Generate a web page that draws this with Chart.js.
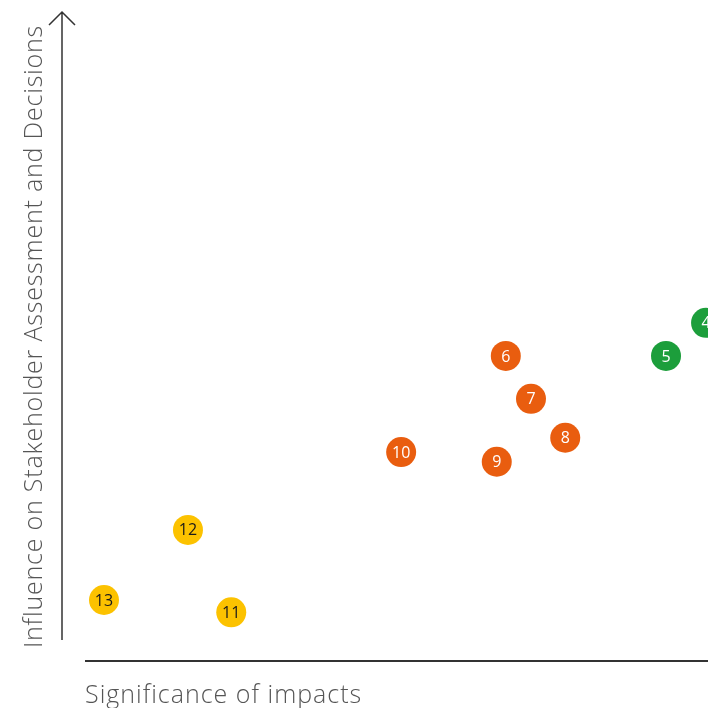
<!DOCTYPE html>
<html>
<head>
<meta charset="utf-8">
<script src="https://cdn.jsdelivr.net/npm/chart.js@4"></script>
<style>
  html, body { margin: 0; padding: 0; background: #fff; overflow: hidden; }
</style>
</head>
<body>
<canvas id="matrix" width="708" height="708"></canvas>
<script>
// topics (axis scale 0..10 both ways)
const topicLabels = ['4', '5', '6', '7', '8', '9', '10', '11', '12', '13'];
const significance = [9.97, 9.35, 6.87, 7.26, 7.79, 6.73, 5.25, 2.62, 1.95, 0.65];
const influence = [5.21, 4.70, 4.70, 4.04, 3.44, 3.07, 3.22, 0.75, 2.02, 0.94];
const topicGroup = ['high', 'high', 'mid', 'mid', 'mid', 'mid', 'mid', 'low', 'low', 'low'];

const groupColors = { high: '#1c9e3b', mid: '#e95d0f', low: '#fcc200' };
const groupText = { high: '#ffffff', mid: '#ffffff', low: '#1a1a1a' };

const xTitle = 'Significance of impacts';
const yTitle = 'Influence on Stakeholder Assessment and Decisions';

// axis lines, arrow and titles drawn around the chart area
const axesPlugin = {
    id: 'axes',
    beforeDatasetsDraw(chart) {
        const { ctx, chartArea } = chart;
        ctx.save();
        ctx.strokeStyle = '#333';
        ctx.lineWidth = 1.5;
        ctx.beginPath();
        ctx.moveTo(chartArea.left, chartArea.bottom - 21);
        ctx.lineTo(chartArea.left, chartArea.top);
        ctx.moveTo(chartArea.left - 13, chartArea.top + 13);
        ctx.lineTo(chartArea.left, chartArea.top);
        ctx.lineTo(chartArea.left + 13, chartArea.top + 13);
        ctx.stroke();

        ctx.lineWidth = 2;
        ctx.beginPath();
        ctx.moveTo(chartArea.left + 23, chartArea.bottom);
        ctx.lineTo(chartArea.right, chartArea.bottom);
        ctx.stroke();

        ctx.fillStyle = '#555';
        ctx.font = '300 25px "Open Sans", sans-serif';
        ctx.letterSpacing = '1px';
        ctx.textBaseline = 'alphabetic';
        ctx.textAlign = 'left';
        ctx.fillText(xTitle, chartArea.left + 23, chartArea.bottom + 42);

        ctx.translate(chartArea.left - 20, (chartArea.top + chartArea.bottom) / 2);
        ctx.rotate(-Math.PI / 2);
        ctx.textAlign = 'center';
        ctx.letterSpacing = '0.8px';
        ctx.fillText(yTitle, 0, 0);
        ctx.restore();
    },
    afterDatasetsDraw(chart) {
        const { ctx } = chart;
        const meta = chart.getDatasetMeta(0);
        ctx.save();
        ctx.font = '16px "Open Sans", sans-serif';
        ctx.textAlign = 'center';
        ctx.textBaseline = 'middle';
        meta.data.forEach((pt, i) => {
            ctx.fillStyle = groupText[topicGroup[i]];
            ctx.fillText(topicLabels[i], pt.x, pt.y + 1);
        });
        ctx.restore();
    }
};

new Chart(document.getElementById('matrix'), {
    type: 'scatter',
    data: {
        labels: topicLabels,
        datasets: [{
            data: significance.map((v, i) => ({ x: v, y: influence[i] })),
            backgroundColor: topicGroup.map(g => groupColors[g]),
            borderWidth: 0,
            pointRadius: 15,
            pointHoverRadius: 15,
            clip: false
        }]
    },
    options: {
        responsive: false,
        animation: false,
        layout: { autoPadding: false, padding: { left: 62, top: 12, right: 0, bottom: 47 } },
        plugins: {
            legend: { display: false },
            tooltip: { enabled: false }
        },
        scales: {
            x: { display: false, min: 0, max: 10 },
            y: { display: false, min: 0, max: 10 }
        }
    },
    plugins: [axesPlugin]
});
</script>
</body>
</html>
